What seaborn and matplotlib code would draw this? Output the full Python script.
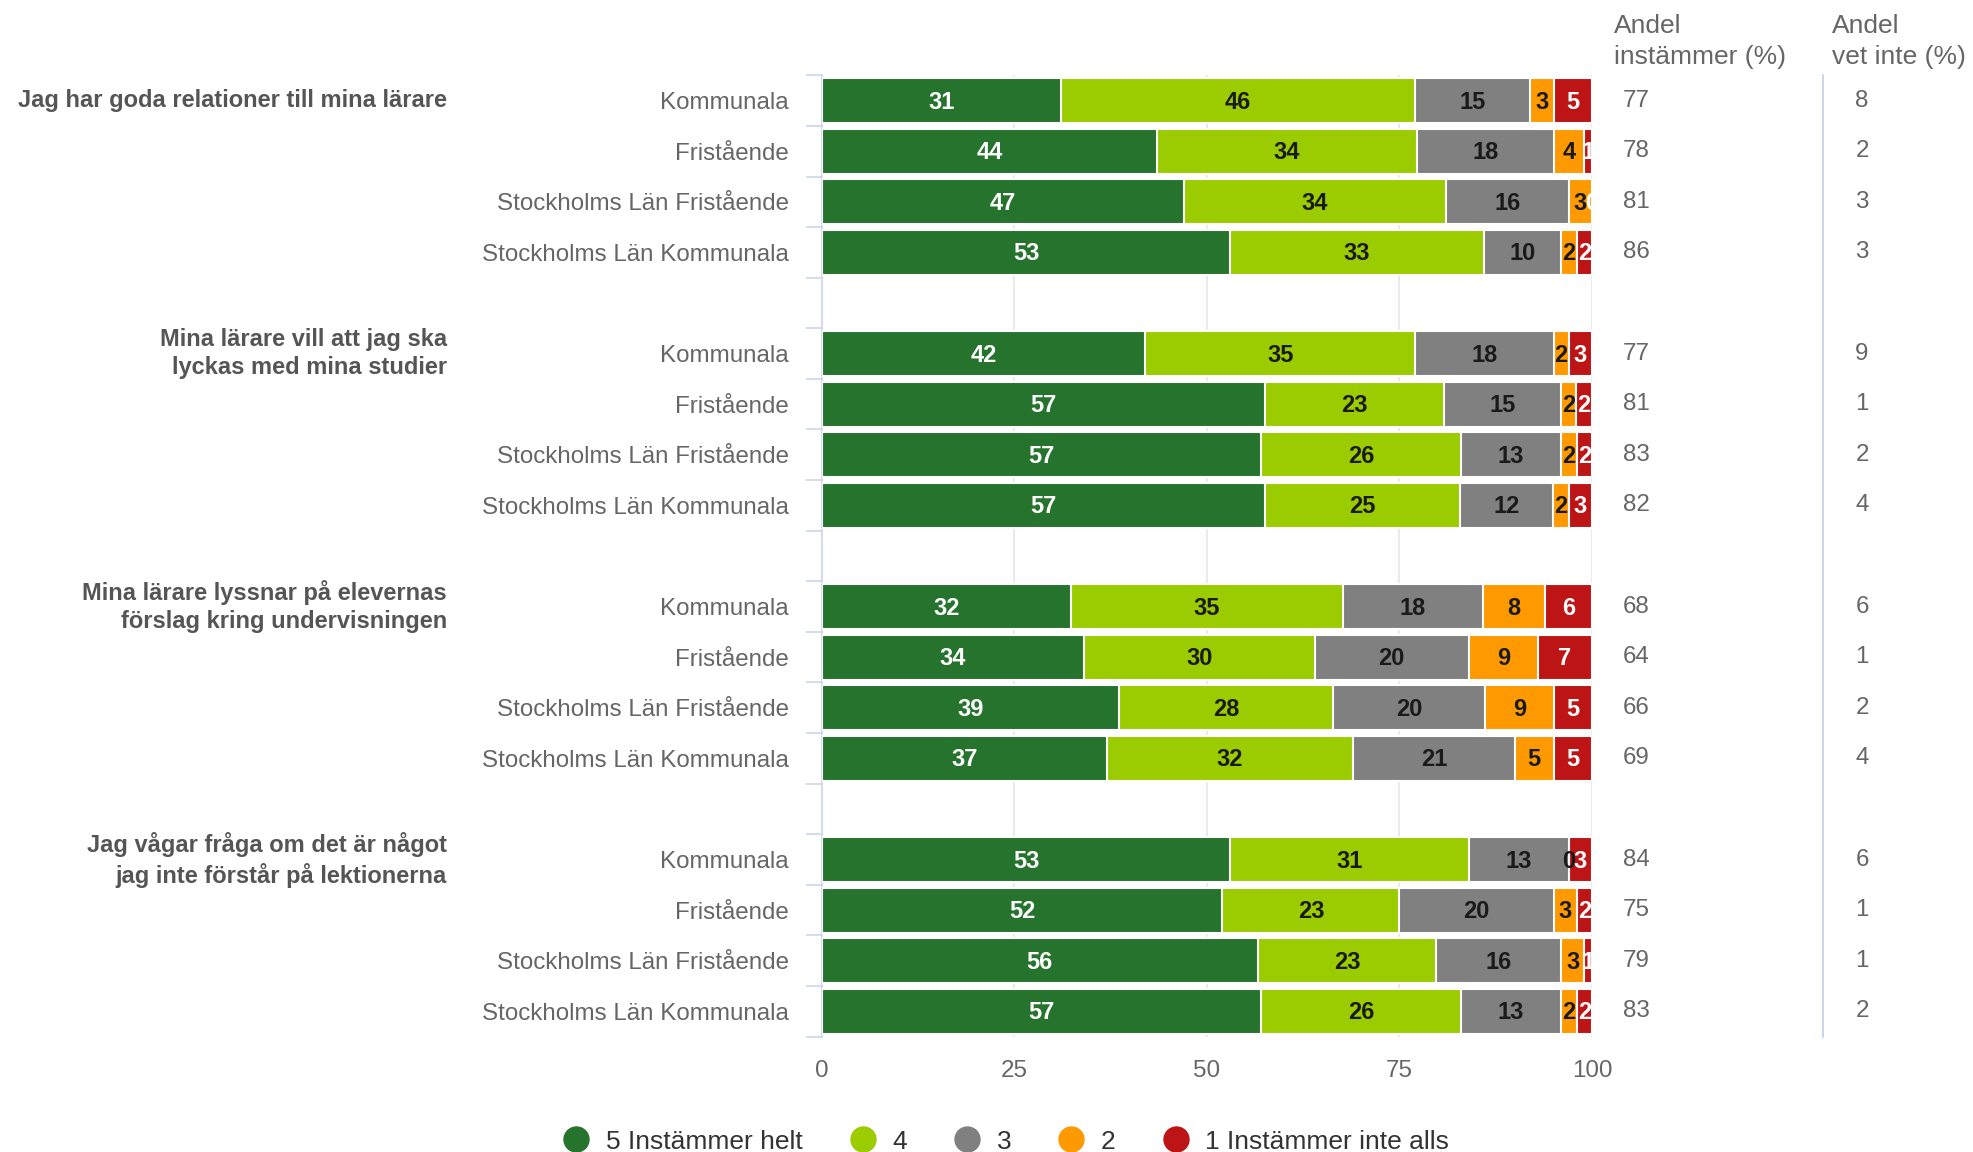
import numpy as np
import pandas as pd
import matplotlib
matplotlib.use("Agg")
import matplotlib.pyplot as plt
import matplotlib.transforms as mtransforms
from matplotlib.lines import Line2D
import seaborn as sns

# ---- data -------------------------------------------------------------
questions = [
    "Jag har goda relationer till mina lärare",
    "Mina lärare vill att jag ska\nlyckas med mina studier",
    "Mina lärare lyssnar på elevernas\nförslag kring undervisningen",
    "Jag vågar fråga om det är något\njag inte förstår på lektionerna",
]
groups = ["Kommunala", "Fristående", "Stockholms Län Fristående", "Stockholms Län Kommunala"]
series_names = ["5 Instämmer helt", "4", "3", "2", "1 Instämmer inte alls"]

s5 = [31, 44, 47, 53, 42, 57, 57, 57, 32, 34, 39, 37, 53, 52, 56, 57]
s4 = [46, 34, 34, 33, 35, 23, 26, 25, 35, 30, 28, 32, 31, 23, 23, 26]
s3 = [15, 18, 16, 10, 18, 15, 13, 12, 18, 20, 20, 21, 13, 20, 16, 13]
s2 = [3, 4, 3, 2, 2, 2, 2, 2, 8, 9, 9, 5, 0, 3, 3, 2]
s1 = [5, 1, 0, 2, 3, 2, 2, 3, 6, 7, 5, 5, 3, 2, 1, 2]

andel_instammer = [77, 78, 81, 86, 77, 81, 83, 82, 68, 64, 66, 69, 84, 75, 79, 83]
andel_vet_inte = [8, 2, 3, 3, 9, 1, 2, 4, 6, 1, 2, 4, 6, 1, 1, 2]

colors = ["#26732e", "#9bcc00", "#808080", "#ff9900", "#bd1515"]
label_colors = ["white", "#1a1a1a", "#1a1a1a", "#1a1a1a", "white"]

# ---- layout of rows (one empty slot between question blocks) -----------
block = len(groups) + 1
positions = []
for qi in range(len(questions)):
    for gi in range(len(groups)):
        positions.append(qi * block + gi)
positions = np.array(positions, dtype=float)
last_slot = positions.max()

values = np.array([s5, s4, s3, s2, s1], dtype=float)   # (series, rows)
shares = values / values.sum(axis=0) * 100             # percent stacking
cum = np.cumsum(shares, axis=0)

df = pd.DataFrame({"pos": positions})
for k in range(len(series_names)):
    df[f"cum{k}"] = cum[k]

# ---- figure -----------------------------------------------------------
sns.set_theme(style="white")
plt.rcParams["font.family"] = ["Liberation Sans", "DejaVu Sans"]

fig = plt.figure(figsize=(19.73, 11.52), dpi=100, facecolor="white")
ax = fig.add_axes([0.4166, 0.1002, 0.3903, 0.8344])

for k in reversed(range(len(series_names))):
    sns.barplot(data=df, x=f"cum{k}", y="pos", orient="y", native_scale=True,
                color=colors[k], saturation=1, width=0.89, errorbar=None,
                edgecolor="white", linewidth=1.5, ax=ax, zorder=3)

# segment labels
starts = np.vstack([np.zeros(len(positions)), cum[:-1]])
for k in range(len(series_names)):
    for i, p in enumerate(positions):
        xc = starts[k, i] + shares[k, i] / 2
        ax.text(xc, p + 0.03, f"{int(values[k, i])}", ha="center", va="center",
                fontsize=17, fontweight="bold", color=label_colors[k], zorder=5)

ax.set_xlim(0, 100)
ax.set_ylim(last_slot + 0.5, -0.5)
ax.set_xlabel("")
ax.set_ylabel("")

# x axis
ax.set_xticks([0, 25, 50, 75, 100])
ax.set_xticklabels(["0", "25", "50", "75", "100"])
ax.tick_params(axis="x", length=0, pad=17, labelsize=17.4, labelcolor="#666666")
for xv in [25, 50, 75, 100]:
    ax.axvline(xv, color="#e6e6e6", lw=1.2, zorder=0)

# y axis: category labels at rows, tick marks between rows
ax.set_yticks(positions)
ax.set_yticklabels(groups * len(questions))
ax.tick_params(axis="y", which="major", length=0, pad=24, labelsize=17.4,
               labelcolor="#666666")
ax.set_yticks(np.arange(-0.5, last_slot + 1.0, 1.0), minor=True)
ax.tick_params(axis="y", which="minor", length=11.5, width=1.2, color="#ccd6eb",
               direction="out", left=True)

for side in ["top", "right", "bottom"]:
    ax.spines[side].set_visible(False)
ax.spines["left"].set_color("#ccd6eb")
ax.spines["left"].set_linewidth(1.2)
ax.grid(False)

# question titles, aligned with the first row of each block
trans = mtransforms.blended_transform_factory(fig.transFigure, ax.transData)
for qi, q in enumerate(questions):
    ax.text(0.2266, qi * block, q, transform=trans, ha="right",
            va="center", multialignment="right", fontsize=17, fontweight="bold",
            color="#555555", linespacing=1.3)

# side columns
for i, p in enumerate(positions):
    ax.text(104.0, p, f"{andel_instammer[i]}", ha="left", va="center",
            fontsize=17.4, color="#666666", clip_on=False)
    ax.text(134.2, p, f"{andel_vet_inte[i]}", ha="left", va="center",
            fontsize=17.4, color="#666666", clip_on=False)
ax.plot([130, 130], [-0.5, last_slot + 0.5], color="#ccd6eb", lw=1.5, clip_on=False)

fig.text(0.818, 0.988, "Andel\ninstämmer (%)", ha="left", va="top",
         fontsize=19, color="#666666", linespacing=1.4)
fig.text(0.9285, 0.988, "Andel\nvet inte (%)", ha="left", va="top",
         fontsize=19, color="#666666", linespacing=1.4)

# legend
handles = [Line2D([0], [0], marker="o", linestyle="none", markersize=18,
                  markerfacecolor=c, markeredgecolor=c) for c in colors]
fig.legend(handles, series_names, loc="center", bbox_to_anchor=(0.510, 0.009),
           ncol=5, frameon=False, fontsize=19, handlelength=1.0,
           handletextpad=0.62, columnspacing=1.78, labelcolor="#333333")

fig.savefig("out.png", dpi=100, facecolor="white")
